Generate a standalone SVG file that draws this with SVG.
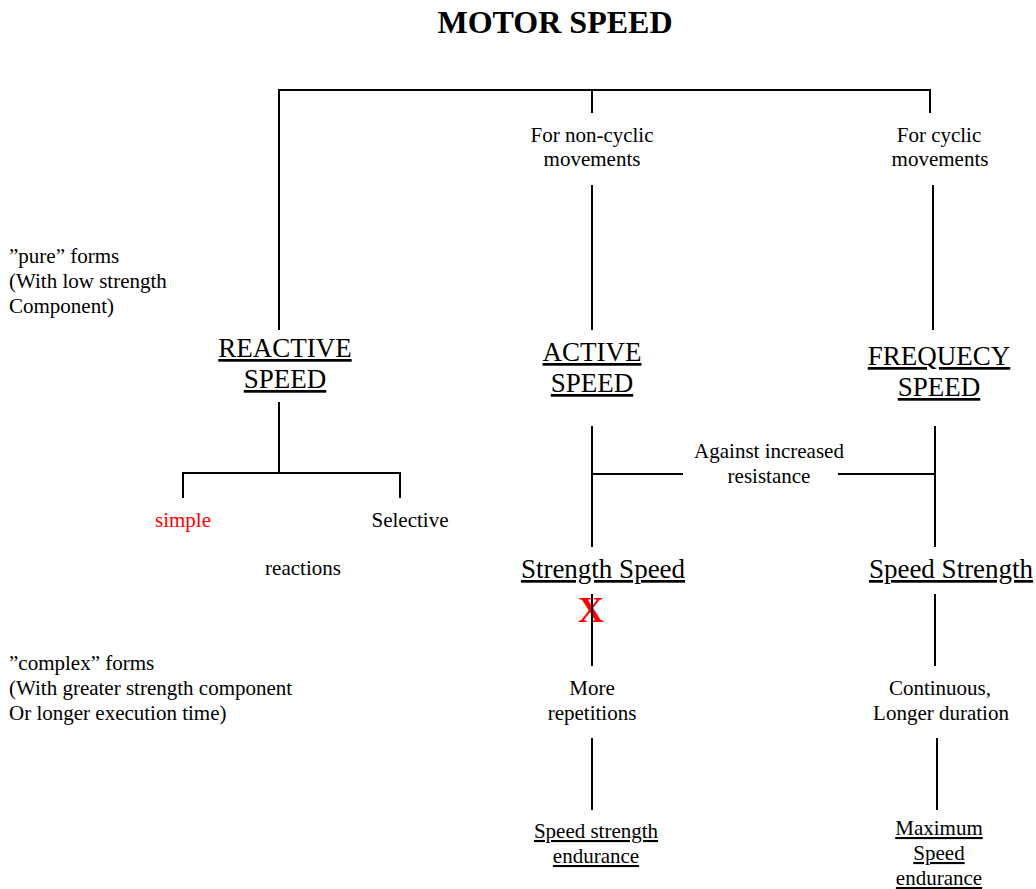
<svg xmlns="http://www.w3.org/2000/svg" width="1036" height="889" viewBox="0 0 1036 889">
<style>
text{font-family:"Liberation Serif","Times New Roman",serif;fill:#000}
.t{font-size:21px}
.m{text-anchor:middle}
.big{font-size:27px;text-anchor:middle;text-decoration:underline}
.u{text-decoration:underline}
.ln{stroke:#000;stroke-width:2;fill:none}
</style>
<rect width="1036" height="889" fill="#fff"/>
<g id="title"><text x="555" y="33" font-size="32" font-weight="bold" text-anchor="middle">MOTOR SPEED</text></g>
<g id="note-pure"><text class="t" x="9" y="263">”pure” forms</text><text class="t" x="9" y="288">(With low strength</text><text class="t" x="9" y="313">Component)</text></g>
<g id="note-complex"><text class="t" x="9" y="670">”complex” forms</text><text class="t" x="9" y="695">(With greater strength component</text><text class="t" x="9" y="720">Or longer execution time)</text></g>
<g id="noncyclic"><text class="t m" x="592" y="142">For non-cyclic</text><text class="t m" x="592" y="166">movements</text></g>
<g id="cyclic"><text class="t m" x="939" y="142">For cyclic</text><text class="t m" x="940" y="166">movements</text></g>
<g id="reactive"><text class="big" x="285" y="357">REACTIVE</text><text class="big" x="285" y="388">SPEED</text></g>
<g id="active"><text class="big" x="592" y="361">ACTIVE</text><text class="big" x="592" y="392">SPEED</text></g>
<g id="frequecy"><text class="big" x="939" y="365">FREQUECY</text><text class="big" x="939" y="396">SPEED</text></g>
<g id="simple"><text class="t m" x="183" y="527" style="fill:#ff0000">simple</text></g>
<g id="selective"><text class="t m" x="410" y="527">Selective</text></g>
<g id="reactions"><text class="t m" x="303" y="575">reactions</text></g>
<g id="resistance"><text class="t m" x="769" y="458">Against increased</text><text class="t m" x="769" y="483">resistance</text></g>
<g id="strength-speed"><text class="big" x="603" y="578">Strength Speed</text></g>
<g id="speed-strength"><text class="big" x="951" y="578">Speed Strength</text></g>
<g id="x-mark"><text x="591" y="622" font-size="36" font-weight="bold" text-anchor="middle" style="fill:#ff0000">X</text></g>
<g id="more-rep"><text class="t m" x="592" y="695">More</text><text class="t m" x="592" y="720">repetitions</text></g>
<g id="continuous"><text class="t m" x="940" y="695">Continuous,</text><text class="t m" x="941" y="720">Longer duration</text></g>
<g id="ss-endurance"><text class="t m u" x="596" y="838">Speed strength</text><text class="t m u" x="596" y="863">endurance</text></g>
<g id="max-endurance"><text class="t m u" x="939" y="835">Maximum</text><text class="t m u" x="939" y="860">Speed</text><text class="t m u" x="939" y="885">endurance</text></g>
<g id="connectors" class="ln">
<path class="ln" d="M279 330V90H930V113"/>
<path class="ln" d="M592 90V113"/>
<path class="ln" d="M592 185V330"/>
<path class="ln" d="M933 185V330"/>
<path class="ln" d="M279 402V473"/>
<path class="ln" d="M183 498V473H400V498"/>
<path class="ln" d="M592 426V547"/>
<path class="ln" d="M592 474H683"/>
<path class="ln" d="M838 474H935"/>
<path class="ln" d="M935 426V547"/>
<path class="ln" d="M592 594V666"/>
<path class="ln" d="M592 738V810"/>
<path class="ln" d="M935 594V666"/>
<path class="ln" d="M937 738V810"/>
</g>
</svg>
